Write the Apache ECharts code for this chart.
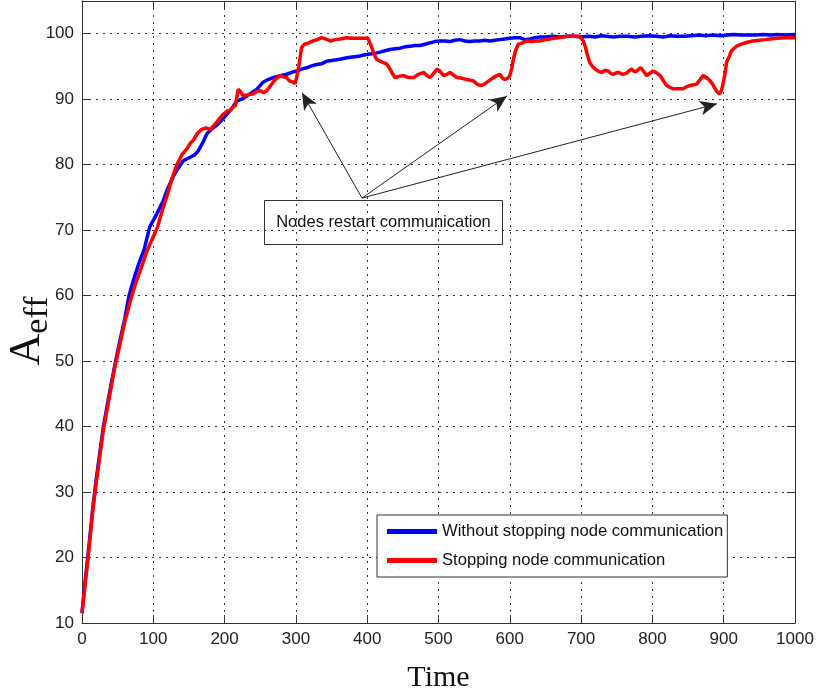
<!DOCTYPE html>
<html><head><meta charset="utf-8">
<script src="https://cdn.jsdelivr.net/npm/echarts@6/dist/echarts.min.js"></script>
<style>html,body{margin:0;padding:0;background:#fff}#c{width:817px;height:694px}</style>
</head><body><div id="c"></div>
<script>
// ---------- data ----------
const xTickValues = [0, 100, 200, 300, 400, 500, 600, 700, 800, 900, 1000];
const yTickValues = [10, 20, 30, 40, 50, 60, 70, 80, 90, 100];
const yAxisTop = 105;

const seriesNames = ['Without stopping node communication', 'Stopping node communication'];

const blueTime = [0,5,10,15,20,25,30,35,40,45,50,55,60,66,72,80,87,95,100,105,114,120,128,135,142,151,158,163,170,175,182,189,196,203,210,217,224,231,238,245,254,261,268,278,287,294,301,308,315,322,329,336,343,350,362,370,376,383,390,397,404,411,418,425,432,439,446,453,460,467,474,481,488,495,502,509,516,523,530,537,544,551,558,565,572,579,586,593,600,607,614,621,628,635,642,650,660,670,680,690,700,710,720,728,736,745,755,765,775,785,795,805,815,825,835,845,855,865,875,885,895,905,915,925,935,945,955,965,975,985,1000];
const blueValue = [11.5,17,22,27.5,32,36,40,43,46,48.8,51.5,54,56.5,60,62.3,65,67,70.5,71.5,72.5,74.5,76.3,78.2,79.5,80.6,81.1,81.5,82.1,83.5,84.7,85.5,86,86.8,87.7,88.6,89.7,90,90.5,91,91.5,92.6,93,93.3,93.6,93.8,94.1,94.3,94.6,94.8,95.1,95.3,95.4,95.8,95.9,96.1,96.3,96.4,96.5,96.6,96.8,96.9,97.0,97.2,97.4,97.6,97.7,97.8,98.0,98.1,98.2,98.2,98.4,98.6,98.8,98.9,98.9,98.8,99.0,99.1,98.9,98.8,98.9,98.9,99.0,98.9,99.0,99.1,99.2,99.3,99.4,99.4,99.1,99.2,99.4,99.5,99.5,99.6,99.5,99.6,99.6,99.5,99.6,99.5,99.7,99.6,99.5,99.6,99.6,99.5,99.6,99.7,99.6,99.5,99.7,99.6,99.6,99.7,99.8,99.7,99.8,99.7,99.8,99.9,99.8,99.8,99.8,99.9,99.8,99.9,99.8,99.9];

const redTime = [0,5,10,15,20,25,30,35,40,45,50,55,60,65,70,75,80,85,90,95,100,106,112,120,126,133,140,147,152,156,162,168,174,180,185,189,194,198,204,208,212,215,217,219,222,226,233,240,245,250,255,259,264,268,273,278,283,287,291,296,299,301,304,306,308,312,318,324,330,336,342,348,355,362,371,378,385,393,401,405,409,413,420,427,432,436,439,445,451,458,465,472,479,484,488,493,498,502,507,512,516,521,526,533,540,549,553,558,563,568,573,577,582,586,590,593,597,600,603,605,608,612,618,624,630,636,642,650,656,661,668,675,680,690,698,703,706,708,712,716,720,725,729,734,738,742,745,749,752,756,759,764,768,771,775,778,781,784,788,792,797,801,806,811,815,820,825,829,835,843,848,853,858,862,867,871,876,881,885,888,891,894,897,899,902,904,908,911,918,925,933,941,950,958,965,975,988,1000];
const redValue = [11.5,16.5,21.5,27,31.5,35.5,39.5,42.5,45.5,48.5,51,53.5,56,58,60,61.8,63.3,64.8,66.5,67.8,69,70.5,72.8,75.5,77.8,80,81.5,82.4,83.3,83.7,84.8,85.4,85.6,85.4,86.0,86.5,87.2,87.7,88.2,88.3,88.8,89.0,90.2,91.5,91.2,90.5,90.7,90.8,91.2,91.3,91.0,91.3,92.0,92.6,93.2,93.6,93.4,93.3,92.8,92.6,92.4,93.3,95.0,96.5,97.9,98.4,98.6,98.9,99.1,99.4,99.2,98.9,99.1,99.2,99.4,99.3,99.3,99.3,99.3,98.3,97.1,96.1,95.7,95.4,94.6,93.8,93.3,93.5,93.6,93.3,93.3,93.8,94.1,93.6,93.3,93.9,94.6,94.3,93.6,93.8,94.1,93.7,93.3,93.2,93.0,92.8,92.4,92.1,92.2,92.6,93.0,93.3,93.6,93.8,93.2,93.0,93.2,93.6,94.8,96.1,97.4,98.4,98.6,98.9,98.8,98.9,98.9,99.1,99.2,99.3,99.4,99.5,99.6,99.6,99.6,98.9,98.0,97.1,95.6,95.0,94.6,94.2,94.1,94.4,94.3,93.9,93.8,94.0,94.1,93.9,93.8,94.0,94.4,94.6,94.2,94.3,94.6,94.8,94.2,93.6,94.0,94.3,94.0,93.6,92.9,92.1,91.8,91.6,91.6,91.6,91.9,92.1,92.2,92.3,93.0,93.6,93.3,92.8,92.2,91.6,91.1,90.8,91.4,92.3,94.0,95.6,96.6,97.4,98.1,98.4,98.7,98.9,99.0,99.1,99.2,99.3,99.4,99.4];

const annotationText = 'Nodes restart communication';
const arrowStart = [392.7, 74.9];
const arrowTipTime = [308.6, 596.1, 890.6];
const arrowTipValue = [91.0, 90.5, 89.3];

// ---------- font helpers ----------
const ctx = document.createElement('canvas').getContext('2d');
function avail(f) {
  const s = 'Without stopping node 0123456789';
  ctx.font = '40px monospace'; const a = ctx.measureText(s).width;
  ctx.font = '40px "' + f + '", monospace'; const b = ctx.measureText(s).width;
  return Math.abs(a - b) > 0.5;
}
const SANS = avail('Liberation Sans') ? 'Liberation Sans' : 'sans-serif';
const SERIF = avail('Liberation Serif') ? 'Liberation Serif' : 'serif';
function fitSize(text, target, maxSize) {
  ctx.font = '100px "' + SANS + '"';
  const w = ctx.measureText(text).width;
  return Math.min(maxSize, Math.round(100 * target / w * 10) / 10);
}
const tickSize = 17;
const legendSize = fitSize(seriesNames[0], 281, 20);
const annSize = fitSize(annotationText, 214, 20);

// ---------- chart ----------
const chart = echarts.init(document.getElementById('c'), null, { renderer: 'canvas' });
const axisColor = '#333';
const gridLine = { show: true, lineStyle: { type: [2, 5], color: '#333', width: 1 } };

const option = {
  animation: false,
  backgroundColor: '#fff',
  grid: { left: 82, right: 22, top: 1, bottom: 71, containLabel: false, outerBoundsMode: 'none' },
  legend: {
    orient: 'vertical', left: 377, top: 515,
    backgroundColor: '#fff', borderColor: '#333', borderWidth: 1,
    padding: [8, 4, 8, 10], itemWidth: 50, itemHeight: 5, itemGap: 12, itemTextGap: 5,
    icon: 'rect',
    textStyle: { fontFamily: SANS, fontSize: legendSize, color: '#111' },
    data: seriesNames
  },
  xAxis: [
    {
      type: 'value', min: xTickValues[0], max: xTickValues[xTickValues.length - 1],
      interval: xTickValues[1] - xTickValues[0], position: 'bottom',
      name: 'Time', nameLocation: 'middle', nameGap: 40,
      nameTextStyle: { fontFamily: SERIF, fontSize: 30, color: '#111' },
      axisLine: { show: true, onZero: false, lineStyle: { color: axisColor, width: 1 } },
      axisTick: { show: true, inside: true, length: 8, lineStyle: { color: axisColor } },
      axisLabel: { margin: 8, fontFamily: SANS, fontSize: tickSize, color: '#222',
        formatter: v => String(v) },
      splitLine: gridLine
    },
    {
      type: 'value', min: xTickValues[0], max: xTickValues[xTickValues.length - 1],
      interval: xTickValues[1] - xTickValues[0], position: 'top',
      axisLine: { show: true, onZero: false, lineStyle: { color: axisColor, width: 1 } },
      axisTick: { show: true, inside: true, length: 8, lineStyle: { color: axisColor } },
      axisLabel: { show: false }, splitLine: { show: false }
    }
  ],
  yAxis: [
    {
      type: 'value', min: yTickValues[0], max: yAxisTop,
      interval: yTickValues[1] - yTickValues[0], position: 'left',
      axisLine: { show: true, onZero: false, lineStyle: { color: axisColor, width: 1 } },
      axisTick: { show: true, inside: true, length: 8, lineStyle: { color: axisColor } },
      axisLabel: { margin: 8, fontFamily: SANS, fontSize: tickSize, color: '#222', showMaxLabel: false,
        formatter: v => (yTickValues.indexOf(v) >= 0 ? String(v) : '') },
      splitLine: gridLine
    },
    {
      type: 'value', min: yTickValues[0], max: yAxisTop,
      interval: yTickValues[1] - yTickValues[0], position: 'right',
      axisLine: { show: true, onZero: false, lineStyle: { color: axisColor, width: 1 } },
      axisTick: { show: true, inside: true, length: 8, lineStyle: { color: axisColor } },
      axisLabel: { show: false }, splitLine: { show: false }
    }
  ],
  series: [
    {
      name: seriesNames[0], type: 'line', xAxisIndex: 0, yAxisIndex: 0,
      data: blueTime.map((t, i) => [t, blueValue[i]]),
      showSymbol: false, symbol: 'none', z: 3,
      lineStyle: { color: '#0000ff', width: 3.5 }, itemStyle: { color: '#0000ff' }
    },
    {
      name: seriesNames[1], type: 'line', xAxisIndex: 0, yAxisIndex: 0,
      data: redTime.map((t, i) => [t, redValue[i]]),
      showSymbol: false, symbol: 'none', z: 4,
      lineStyle: { color: '#ff0000', width: 3.5 }, itemStyle: { color: '#ff0000' },
      markLine: {
        silent: true, animation: false,
        symbol: ['none', 'arrow'], symbolSize: [11, 17],
        lineStyle: { color: '#222', width: 1, type: 'solid' },
        itemStyle: { color: '#222' },
        label: { show: false },
        emphasis: { disabled: true },
        data: arrowTipTime.map((t, i) => [
          { coord: arrowStart },
          { coord: [t, arrowTipValue[i]] }
        ])
      }
    }
  ],
  graphic: [
    {
      type: 'group', left: 264, top: 200, z: 100,
      children: [
        { type: 'rect', shape: { x: 0, y: 0, width: 238, height: 44 },
          style: { fill: '#fff', stroke: '#333', lineWidth: 1 } },
        { type: 'text', x: 119, y: 22,
          style: { text: annotationText, fontFamily: SANS, fontSize: annSize, fill: '#111',
                   align: 'center', verticalAlign: 'middle', textAlign: 'center', textVerticalAlign: 'middle' } }
      ]
    },
    {
      type: 'text', x: 30, y: 331, rotation: Math.PI / 2, z: 100,
      style: {
        text: '{a|A}{b|eff}',
        align: 'center', verticalAlign: 'middle', textAlign: 'center', textVerticalAlign: 'middle',
        fill: '#111',
        rich: {
          a: { fontFamily: SERIF, fontSize: 44, fill: '#111', verticalAlign: 'bottom', padding: [0, 0, 6, 0] },
          b: { fontFamily: SERIF, fontSize: 34, fill: '#111', verticalAlign: 'bottom' }
        }
      }
    }
  ]
};
chart.setOption(option);
</script>
</body></html>
